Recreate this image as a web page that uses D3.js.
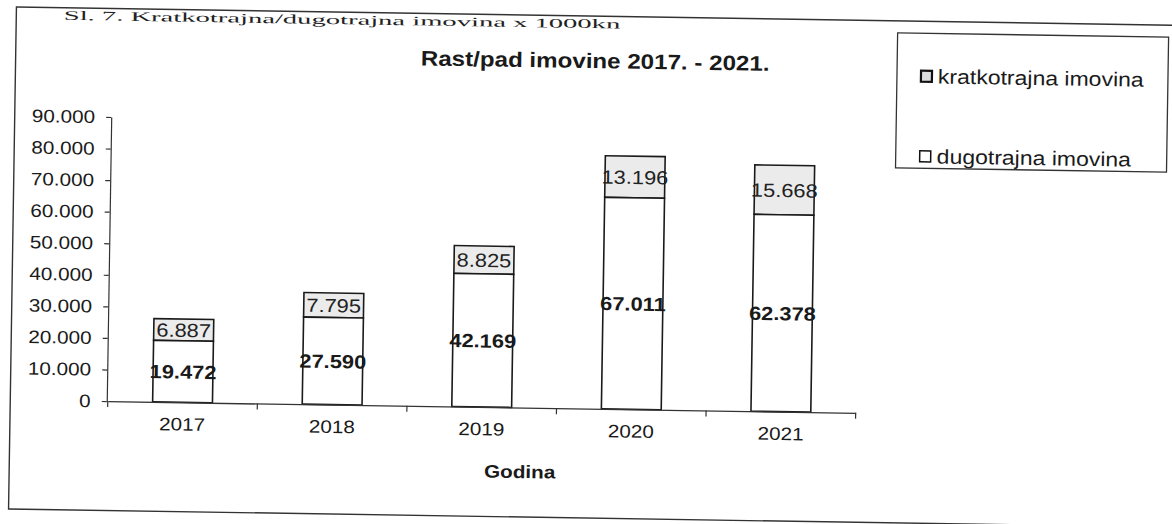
<!DOCTYPE html>
<html>
<head>
<meta charset="utf-8">
<script src="https://cdn.jsdelivr.net/npm/d3@7"></script>
<style>
  html, body { margin: 0; padding: 0; background: #fff; }
  svg { display: block; }
  text { font-family: "Liberation Sans", Arial, sans-serif; fill: #1a1a1a; }
</style>
</head>
<body>
<svg id="chart" width="1172" height="524"></svg>
<script>
// ---- data ----
const years = ['2017', '2018', '2019', '2020', '2021'];
const dugotrajna = [19472, 27590, 42169, 67011, 62378];
const kratkotrajna = [6887, 7795, 8825, 13196, 15668];
const yTicks = [0, 10000, 20000, 30000, 40000, 50000, 60000, 70000, 80000, 90000];
const seriesNames = ['kratkotrajna imovina', 'dugotrajna imovina'];
const chartTitle = 'Rast/pad imovine 2017. - 2021.';
const xTitle = 'Godina';
const docCaption = 'Sl. 7. Kratkotrajna/dugotrajna imovina x 1000kn';

// ---- setup ----
const svg = d3.select('#chart');
const SX = 1.15;
const loc = d3.formatLocale({ decimal: ',', thousands: '.', grouping: [3], currency: ['', ''] });
const fmt = loc.format(',d');

function stext(parent, x, y, str, size, weight, anchor, family, sx) {
  return parent.append('text')
    .attr('transform', `translate(${x},${y}) scale(${sx || SX},1)`)
    .attr('text-anchor', anchor || 'start')
    .style('font-size', size + 'px')
    .style('font-weight', weight || 'normal')
    .style('font-family', family || null)
    .text(str);
}

const root = svg.append('g').attr('transform', 'rotate(0.9, 586, 262)');

// outer frame
root.append('rect')
  .attr('x', 12.5).attr('y', 16).attr('width', 1200).attr('height', 502)
  .attr('fill', 'none').attr('stroke', '#333').attr('stroke-width', 1.4);

// document caption just under the frame's top edge
stext(root, 60, 28, docCaption, 13, 'normal', 'start', '"Liberation Serif", "Times New Roman", serif', 2.2)
  .style('fill', '#222');

// scales
const x = d3.scaleBand().domain(years).range([110, 858]).padding(0);
const y = d3.scaleLinear().domain([0, 90000]).range([408.6, 124.5]);
const barW = x.bandwidth() * 0.4;

// title
stext(root, 592, 68, chartTitle, 21, 'bold', 'middle');

// y axis
const yAxis = root.append('g').attr('transform', 'translate(109,0)')
  .call(d3.axisLeft(y).tickValues(yTicks).tickFormat(fmt).tickSize(5).tickSizeOuter(0).tickPadding(9));
yAxis.selectAll('path, line').attr('stroke', '#333').attr('stroke-width', 1.2);
yAxis.selectAll('text')
  .style('font-size', '18px').style('font-family', '"Liberation Sans", Arial, sans-serif').attr('fill', '#1a1a1a')
  .attr('transform', `scale(${SX},1)`);

// bars
const data = years.map((yr, i) => ({ yr, d: dugotrajna[i], k: kratkotrajna[i] }));
const bars = root.append('g');
bars.selectAll('rect.k').data(data).join('rect').attr('class', 'k')
  .attr('x', d => x(d.yr) + (x.bandwidth() - barW) / 2)
  .attr('width', barW)
  .attr('y', d => y(d.d + d.k))
  .attr('height', d => y(d.d) - y(d.d + d.k))
  .attr('fill', '#ebebeb').attr('stroke', '#1a1a1a').attr('stroke-width', 1.6);
bars.selectAll('rect.d').data(data).join('rect').attr('class', 'd')
  .attr('x', d => x(d.yr) + (x.bandwidth() - barW) / 2)
  .attr('width', barW)
  .attr('y', d => y(d.d))
  .attr('height', d => y(0) - y(d.d))
  .attr('fill', '#fff').attr('stroke', '#1a1a1a').attr('stroke-width', 1.6);

// labels
data.forEach(d => {
  const cx = x(d.yr) + x.bandwidth() / 2;
  stext(bars, cx, y(d.d / 2) + 7, fmt(d.d), 19, 'bold', 'middle');
  stext(bars, cx, y(d.d + d.k / 2) + 7, fmt(d.k), 19, 'normal', 'middle').style('fill', '#222');
});

// x axis
const xAxis = root.append('g').attr('transform', `translate(0,${y(0)})`)
  .call(d3.axisBottom(x).tickSize(0).tickSizeOuter(0).tickPadding(15.5));
xAxis.select('path').attr('stroke', '#333').attr('stroke-width', 1.4);
xAxis.selectAll('text')
  .style('font-size', '18px').style('font-family', '"Liberation Sans", Arial, sans-serif').attr('fill', '#1a1a1a')
  .attr('transform', `scale(${SX},1)`);
const boundaries = years.map(yr => x(yr)).concat([x.range()[1]]);
xAxis.selectAll('line.bnd').data(boundaries).join('line').attr('class', 'bnd')
  .attr('x1', d => d).attr('x2', d => d).attr('y1', 0).attr('y2', 6)
  .attr('stroke', '#333').attr('stroke-width', 1.2);

stext(root, 523, 479, xTitle, 18, 'bold', 'middle');

// legend
const leg = root.append('g');
leg.append('rect').attr('x', 894).attr('y', 28).attr('width', 271).attr('height', 135)
  .attr('fill', '#fff').attr('stroke', '#333').attr('stroke-width', 1.3);
const legY = [71, 151];
const legFill = ['#dcdcdc', '#fff'];
const legStroke = [2.2, 1.5];
seriesNames.forEach((name, i) => {
  leg.append('rect').attr('x', 918).attr('y', legY[i] - 5.5).attr('width', 11).attr('height', 11)
    .attr('fill', legFill[i]).attr('stroke', '#111').attr('stroke-width', legStroke[i]);
  stext(leg, 935, legY[i] + 7, name, 20, 'normal', 'start');
});
</script>
</body>
</html>
